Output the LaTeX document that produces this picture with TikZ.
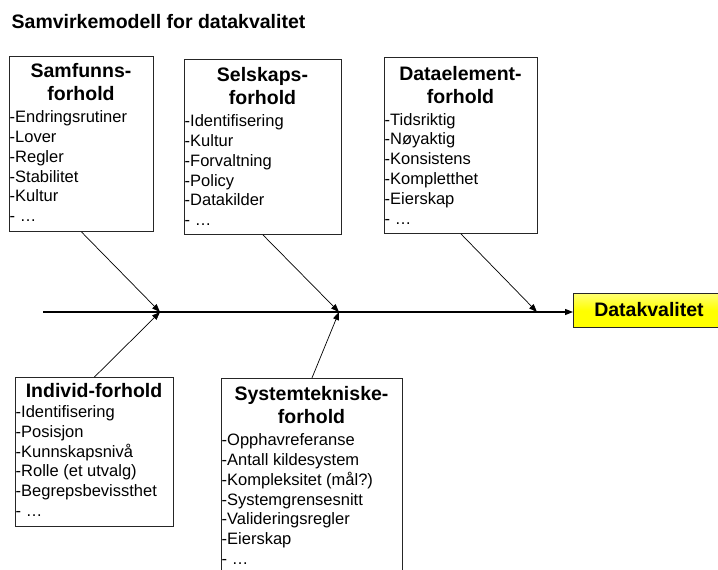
\documentclass[tikz,border=0pt]{standalone}
\usepackage{fontspec}
\setmainfont{Liberation Sans}
\usetikzlibrary{arrows.meta,calc}

% fonts for the titles, box headers and item lists
\newcommand{\titlefont}{\fontsize{19.5}{23}\selectfont\bfseries}
\newcommand{\hdrfont}{\fontsize{19.5}{23}\selectfont\bfseries}
\newcommand{\lstfont}{\fontsize{16.5}{19.8}\selectfont}
% stacked lines whose reference point is the first baseline
\newcommand{\headlines}[1]{\begin{tabular}[t]{@{}c@{}}#1\end{tabular}}
\newcommand{\itemlines}[1]{\begin{tabular}[t]{@{}l@{}}#1\end{tabular}}

\begin{document}
\begin{tikzpicture}[x=1pt,y=-1pt,
  factor/.style={draw=black!85, line width=0.9pt, fill=white, inner sep=0pt,
                 anchor=north west},
  hdr/.style={inner sep=0pt, font=\hdrfont, anchor=base},
  lst/.style={inner sep=0pt, font=\lstfont, anchor=base west},
  spine/.style={line width=1.2pt, -{Triangle[length=8pt,width=6pt]}},
  bone/.style={line width=0.7pt, -{Triangle[length=8pt,width=6pt]}},
  goal/.style={draw=black!85, line width=0.9pt, top color=yellow!55!white,
               bottom color=yellow, middle color=yellow, inner sep=0pt,
               anchor=north west, minimum width=152pt, minimum height=34pt}]
\useasboundingbox (0,0) rectangle (718,570);
\clip (0,0) rectangle (718,570);

% heading
\node[inner sep=0pt, font=\titlefont, anchor=base west] (title) at (11.5,28.7)
  {Samvirkemodell for datakvalitet};

% upper factor boxes
\node[factor, minimum width=144pt, minimum height=175pt] (samf) at (9,56) {};
\node[hdr] (samfh) at (81,77) {\headlines{Samfunns-\\forhold}};
\node[lst] (samfl) at (9.5,122.7) {\itemlines{-Endringsrutiner\\-Lover\\-Regler\\-Stabilitet\\-Kultur\\- …}};

\node[factor, minimum width=157pt, minimum height=175pt] (sels) at (184,59) {};
\node[hdr] (selsh) at (262.5,81) {\headlines{Selskaps-\\forhold}};
\node[lst] (selsl) at (184.5,126.7) {\itemlines{-Identifisering\\-Kultur\\-Forvaltning\\-Policy\\-Datakilder\\- …}};

\node[factor, minimum width=153pt, minimum height=176pt] (dele) at (384,57) {};
\node[hdr] (deleh) at (460.5,80.7) {\headlines{Dataelement-\\forhold}};
\node[lst] (delel) at (384.5,125) {\itemlines{-Tidsriktig\\-Nøyaktig\\-Konsistens\\-Kompletthet\\-Eierskap\\- …}};

% lower factor boxes
\node[factor, minimum width=158pt, minimum height=149pt] (indv) at (15,377) {};
\node[hdr] (indvh) at (94,397.3) {\headlines{Individ-forhold}};
\node[lst] (indvl) at (15.5,417.5) {\itemlines{-Identifisering\\-Posisjon\\-Kunnskapsnivå\\-Rolle (et utvalg)\\-Begrepsbevissthet\\- …}};

\node[factor, minimum width=181pt, minimum height=230pt] (syst) at (221,378) {};
\node[hdr] (systh) at (311.5,400.7) {\headlines{Systemtekniske-\\forhold}};
\node[lst] (systl) at (221.5,445.7) {\itemlines{-Opphavreferanse\\-Antall kildesystem\\-Kompleksitet (mål?)\\-Systemgrensesnitt\\-Valideringsregler\\-Eierskap\\- …}};

% outcome box
\node[goal] (dq) at (573,293) {};
\node[hdr] (dqt) at (649,316) {Datakvalitet};

% spine and the points where the bones meet it
\coordinate (tail) at (43,312);
\coordinate (j1) at (160,312);
\coordinate (j2) at (339,312);
\coordinate (j3) at (537,312);
\draw[spine] (tail) -- (dq.west |- tail);

% bones
\draw[bone] (samf.south) -- (j1);
\draw[bone] (indv.north) -- (j1);
\draw[bone] (sels.south) -- (j2);
\draw[bone] (syst.north) -- (j2);
\draw[bone] (dele.south) -- (j3);
\end{tikzpicture}
\end{document}
